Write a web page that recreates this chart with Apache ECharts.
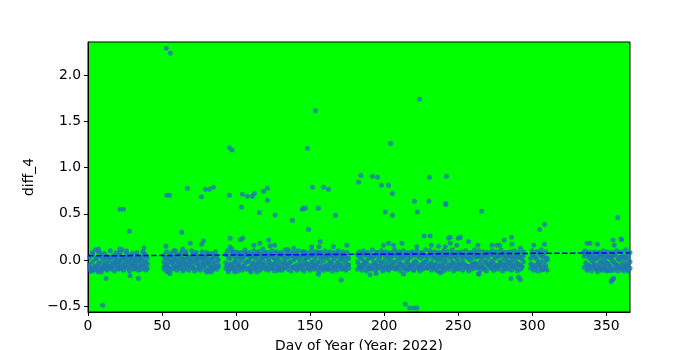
<!DOCTYPE html>
<html>
<head>
<meta charset="utf-8">
<script src="https://cdn.jsdelivr.net/npm/echarts@6/dist/echarts.min.js"></script>
<style>html,body{margin:0;padding:0;background:#fff}#c{width:700px;height:350px}</style>
</head>
<body>
<div id="c"></div>
<script>
// ---- data ----
const xTicks = [0, 50, 100, 150, 200, 250, 300, 350];
const yTicks = [-0.5, 0, 0.5, 1, 1.5, 2];
const xLabel = "Day of Year (Year: 2022)";
const yLabel = "diff_4";

// dense band, segments of consecutive days
const segAStart = 1;
const segA1 = [-0.05,-0.09,-0.02,-0.11,0.01,-0.06,-0.13,-0.03,0.04,-0.08,-0.04,0.02,-0.06,-0.01,-0.07,0.03,-0.03,-0.05,0.00,-0.02,0.06,-0.04,0.01,-0.06,0.03,-0.02,0.05,-0.01,-0.04,0.02,-0.03,0.00,-0.07,0.04,-0.02,0.01,-0.05,0.07,-0.03,0.02];
const segA2 = [0.03,-0.12,0.06,-0.07,-0.10,0.02,-0.04,0.08,-0.09,0.01,-0.07,-0.03,0.04,-0.08,0.02,-0.05,0.05,-0.02,0.03,-0.06,-0.01,0.04,-0.08,0.02,-0.03,0.07,-0.06,0.01,0.04,-0.05,0.02,-0.04,0.05,-0.01,0.03,-0.06,0.03,-0.02,0.05,-0.04];
const segA3 = [-0.09,-0.12,0.08,-0.10,-0.07,-0.11,0.09,-0.08,-0.13,-0.10,0.07,-0.09,-0.11,-0.08,0.10,-0.10,-0.07,-0.12,0.08,-0.09,-0.10,0.09,-0.08,-0.11,-0.07,0.10,-0.09,-0.12,-0.08,0.07,-0.10,-0.09,0.08,-0.11,-0.07,-0.10,0.09,-0.08,-0.11,-0.09];

const segBStart = 51;
const segB1 = [-0.02,0.03,-0.05,-0.08,0.01,-0.03,0.04,-0.06,-0.01,0.02,-0.04,0.05,-0.02,-0.07,0.01,-0.03,0.03,-0.05,0.00,-0.02,0.06,-0.04,-0.01,0.02,-0.06,0.03,-0.02,0.01,-0.05,0.04,-0.03,0.00,-0.08,0.02,-0.04,0.05,-0.01,-0.06];
const segB2 = [0.05,-0.06,0.02,-0.01,-0.09,0.04,-0.02,0.01,-0.07,0.06,-0.01,-0.05,0.03,0.00,-0.04,0.07,-0.06,0.02,-0.03,0.04,-0.08,0.01,0.05,-0.03,0.02,-0.07,0.04,-0.04,0.03,-0.01,0.06,-0.05,0.01,-0.02,0.04,-0.07,0.03,0.00];
const segB3 = [-0.08,-0.11,0.09,-0.13,-0.09,0.07,-0.10,-0.08,0.10,-0.11,-0.07,-0.09,0.08,-0.12,-0.10,0.09,-0.08,-0.11,-0.07,0.10,-0.09,-0.12,0.08,-0.10,-0.08,-0.11,0.09,-0.07,-0.10,0.08,-0.12,-0.09,0.07,-0.11,-0.08,0.09,-0.10,-0.07];

const segCStart = 93;
const segC1 = [-0.03,0.05,-0.08,0.02,-0.05,0.08,-0.02,0.01,-0.06,0.04,-0.01,-0.09,
0.03,-0.04,0.06,-0.02,0.00,-0.07,0.05,-0.03,0.02,-0.05,0.07,-0.01,
-0.06,0.03,-0.02,0.04,-0.08,0.01,-0.03,0.05,-0.05,0.02,-0.01,-0.07,
0.04,-0.02,0.06,-0.04,0.01,-0.06,0.03,-0.03,0.05,-0.08,0.00,0.02,
-0.05,0.04,-0.02,-0.07,0.06,-0.01,0.02,-0.04,0.03,-0.06,0.05,-0.03,
0.01,-0.05,0.07,-0.02,-0.08,0.03,-0.01,0.04,-0.06,0.02,-0.03,0.05,
-0.04,0.01,-0.07,0.06,-0.02,0.03,-0.05,0.00,0.04,-0.03,-0.06,0.02];
const segC2 = [0.06,-0.06,0.02,-0.04,0.09,-0.09,0.04,-0.03,0.07,-0.05,0.03,0.01,
-0.07,0.08,-0.02,0.05,-0.10,0.03,-0.04,0.06,-0.08,0.04,-0.02,0.07,
0.02,-0.05,0.08,-0.06,0.04,-0.02,0.06,-0.09,0.03,-0.04,0.07,0.01,
-0.05,0.06,-0.08,0.03,-0.03,0.07,-0.06,0.04,-0.02,0.05,-0.07,0.03,
0.06,-0.08,0.02,0.04,-0.05,0.07,-0.04,0.03,-0.09,0.05,-0.02,0.06,
-0.07,0.04,-0.03,0.08,0.02,-0.06,0.05,-0.08,0.03,0.06,-0.04,-0.02,
0.05,-0.08,0.03,-0.04,0.07,-0.06,0.02,0.05,-0.09,0.04,0.01,-0.05];
const segC3 = [-0.09,0.10,-0.11,-0.07,0.12,-0.10,-0.08,0.09,-0.12,-0.09,0.08,-0.11,
-0.07,0.11,-0.10,-0.09,0.08,-0.12,-0.08,0.10,-0.10,-0.07,0.09,-0.11,
-0.09,0.12,-0.08,-0.10,0.08,-0.11,-0.07,0.10,-0.09,-0.12,0.09,-0.08,
-0.10,0.08,-0.11,-0.09,0.11,-0.07,-0.10,0.09,-0.12,-0.08,0.08,-0.09,
-0.11,0.10,-0.07,-0.10,0.09,-0.12,-0.08,0.08,-0.09,-0.11,0.10,-0.07,
-0.10,0.09,-0.08,-0.12,0.08,-0.09,-0.11,0.10,-0.07,-0.10,0.09,-0.08,
-0.12,0.08,-0.09,-0.11,0.10,-0.07,-0.10,0.09,-0.08,-0.11,0.08,-0.09];

const segDStart = 182;
const segD1 = [-0.02,0.04,-0.07,0.01,-0.04,0.06,-0.01,-0.05,0.03,-0.08,0.02,-0.03,
0.05,-0.06,0.00,0.03,-0.04,0.07,-0.02,-0.07,0.04,-0.01,0.02,-0.05,
0.06,-0.03,-0.08,0.01,0.04,-0.04,0.02,-0.06,0.05,-0.02,0.00,-0.07,
0.03,-0.05,0.06,-0.01,-0.03,0.04,-0.08,0.02,-0.04,0.05,-0.02,0.01,
-0.06,0.07,-0.03,0.02,-0.05,0.04,-0.01,-0.07,0.03,0.00,-0.04,0.06,
-0.02,0.05,-0.06,0.01,-0.03,0.04,-0.08,0.02,0.06,-0.05,0.03,-0.01,
-0.04,0.05,-0.07,0.02,0.00,-0.05,0.06,-0.03,0.03,-0.06,0.04,-0.02,
0.01,-0.08,0.05,-0.03,0.02,-0.05,0.07,-0.01,-0.04,0.03,-0.06,0.04,
-0.02,0.06,-0.05,0.01,-0.07,0.03,-0.03,0.05,-0.01,-0.06,0.02,0.04,
-0.04,0.03,-0.06,0.01,-0.02];
const segD2 = [0.06,-0.05,0.03,-0.08,0.07,-0.03,0.05,-0.09,0.02,0.06,-0.06,0.04,
-0.03,0.08,-0.07,0.05,-0.02,-0.09,0.06,0.03,-0.05,0.07,-0.08,0.04,
-0.02,0.05,0.07,-0.07,-0.02,0.06,-0.05,0.03,-0.09,0.06,-0.04,0.04,
-0.06,0.07,-0.03,0.05,0.06,-0.07,0.03,-0.05,0.07,-0.03,0.05,-0.08,
0.04,-0.04,0.06,-0.08,0.03,-0.06,0.07,0.02,-0.05,0.06,-0.08,0.02,
0.05,-0.07,0.04,-0.05,0.07,-0.03,0.04,-0.06,-0.02,0.07,-0.05,0.05,
0.04,-0.06,0.03,-0.07,0.06,0.02,-0.05,0.07,-0.04,0.05,-0.08,0.04,
-0.06,0.04,-0.02,0.07,-0.05,0.05,-0.03,0.06,-0.07,0.02,0.05,-0.06,
0.04,-0.03,0.07,-0.05,0.04,-0.02,0.06,-0.04,0.03,0.05,-0.07,-0.02,
0.06,-0.05,0.03,-0.07,0.05];
const segD3 = [-0.10,0.09,-0.08,-0.11,0.10,-0.07,-0.12,0.08,-0.09,-0.10,0.11,-0.08,
-0.11,0.08,-0.09,-0.07,0.10,-0.12,-0.08,0.09,-0.10,-0.11,0.08,-0.07,
-0.09,0.11,-0.10,-0.08,0.09,-0.12,-0.07,0.10,-0.09,-0.11,0.08,-0.10,
-0.08,0.09,-0.11,-0.07,0.10,-0.09,-0.12,0.08,-0.10,-0.08,0.11,-0.09,
-0.07,0.10,-0.11,-0.08,0.09,-0.10,-0.12,0.08,-0.07,-0.09,0.10,-0.11,
-0.08,0.09,-0.10,-0.07,0.11,-0.12,-0.09,0.08,-0.10,-0.08,0.09,-0.11,
-0.07,0.10,-0.09,-0.12,0.08,-0.10,-0.08,0.11,-0.09,-0.07,0.10,-0.11,
-0.08,0.09,-0.10,-0.12,0.08,-0.07,-0.09,0.10,-0.11,-0.08,0.09,-0.10,
-0.07,0.11,-0.12,-0.09,0.08,-0.10,-0.08,0.09,-0.11,-0.07,0.10,-0.09,
-0.12,0.08,-0.10,-0.08,0.09];

const segEStart = 299;
const segE1 = [0.02,-0.05,0.04,-0.08,0.01,-0.03,0.06,-0.06,0.03,-0.02,-0.09,0.00];
const segE2 = [-0.04,0.06,-0.07,0.03,-0.05,0.08,-0.02,0.05,-0.10,0.04,-0.06,0.02];
const segE3 = [-0.09,0.10,-0.11,-0.08,0.09,-0.12,-0.07,0.11,-0.10,-0.08,0.09,-0.11];

const segFStart = 335;
const segF1 = [0.04,-0.03,0.07,-0.06,0.02,-0.01,0.05,-0.04,0.01,-0.07,0.03,-0.02,0.06,-0.05,0.00,-0.03,0.04,-0.06,0.02,-0.01,0.05,-0.04,-0.07,0.03,0.00,-0.05,0.02,-0.03,0.04,-0.06,0.01,-0.02];
const segF2 = [0.09,0.06,-0.05,0.03,-0.08,0.05,-0.06,0.02,-0.09,0.04,-0.05,0.06,-0.03,0.02,-0.08,0.05,-0.04,0.03,-0.10,0.04,-0.02,0.06,-0.05,0.01,-0.08,0.03,0.05,-0.07,0.02,-0.04,0.06,-0.09];
const segF3 = [-0.08,0.10,-0.11,-0.09,0.08,-0.12,-0.07,0.09,-0.10,-0.13,0.08,-0.09,-0.11,0.10,-0.08,-0.12,0.09,-0.10,-0.07,0.08,-0.11,-0.09,0.10,-0.12,-0.08,0.09,-0.10,-0.07,0.11,-0.09,-0.12,0.08];

// individual points
const extraX = [52.9,55.6,223.9,153.6,95.5,97.3,148.2,204.3,
53.2,55,67.1,76.6,79.3,82,84.7,95.5,103.6,104.3,107.6,111,112.4,118.5,121.1,121.1,145.5,151.6,159,162.4,155.6,182.7,184.2,192.1,195.5,198.2,202.9,205.6,220.5,230.2,230.6,241.4,242.1,
21.6,23.9,27.9,63.3,115.7,126.4,138,144.8,146.8,148.9,167.1,200.7,205.6,222.3,241.7,265.8,305,308.3,357.6,
9.9,12.2,28.4,34,55.4,155.6,171,190.5,194.6,214.2,217.1,219.8,222.1,213,237.8,285.6,290.7,291.9,263.7,354.3,353.2,346,350.5,53,54,80,83,94.8,99,110,114,128.6,162,219.8,239,264,306.5,349.3,352.7,353.8,355,360.6,361.7,365,21,
5,7,21.5,23,37.8,52.7,69,76.8,78,58,64,96,96,103,104.5,112,116,122,123,126,135,139,145.5,151,156.8,156,165.7,174.8,199.5,203,206.3,212,222,227,231,231.8,236.7,241.2,243.4,244.6,250,249,257,263.3,272.7,276,278,281,286,286.3,292,301,308.3,337,339,344,354.5,355.4,360,360.3,244.6,251.4];
const extraY = [2.29,2.235,1.737,1.614,1.214,1.19,1.207,1.26,
0.70,0.70,0.775,0.685,0.765,0.765,0.786,0.70,0.57,0.71,0.69,0.69,0.72,0.743,0.775,0.645,0.56,0.786,0.786,0.765,0.56,0.84,0.915,0.905,0.894,0.808,0.808,0.72,0.635,0.635,0.894,0.61,0.905,
0.55,0.55,0.31,0.30,0.515,0.486,0.43,0.548,0.56,0.33,0.483,0.519,0.483,0.519,0.60,0.526,0.33,0.386,0.46,
-0.49,-0.20,-0.17,-0.20,-0.145,-0.155,-0.216,-0.16,-0.145,-0.476,-0.52,-0.52,-0.52,-0.15,-0.137,-0.2,-0.187,-0.21,-0.15,-0.21,-0.235,-0.1,-0.108,-0.05,-0.11,-0.13,-0.13,-0.126,-0.126,-0.13,-0.13,-0.11,-0.1,-0.108,-0.126,-0.15,-0.108,-0.1,-0.115,-0.216,-0.198,-0.09,-0.115,-0.108,-0.09,
0.11,0.12,0.12,0.11,0.13,0.15,0.18,0.17,0.205,0.10,0.12,0.235,0.14,0.22,0.235,0.16,0.18,0.216,0.155,0.16,0.115,0.126,0.09,0.144,0.2,0.144,0.144,0.16,0.16,0.18,0.16,0.18,0.144,0.26,0.26,0.16,0.15,0.144,0.235,0.18,0.235,0.16,0.2,0.16,0.16,0.16,0.16,0.216,0.245,0.17,0.126,0.16,0.17,0.18,0.18,0.17,0.216,0.16,0.227,0.22,0.245,0.245];

// fitted trend line end points
const trendX = [0, 366];
const trendY = [0.045, 0.078];

// ---- build ----
const pts = [];
function addSeg(start, arr) { arr.forEach((v, i) => pts.push([start + i, v])); }
addSeg(segAStart, segA1); addSeg(segAStart, segA2); addSeg(segAStart, segA3);
addSeg(segBStart, segB1); addSeg(segBStart, segB2); addSeg(segBStart, segB3);
addSeg(segCStart, segC1); addSeg(segCStart, segC2); addSeg(segCStart, segC3);
addSeg(segDStart, segD1); addSeg(segDStart, segD2); addSeg(segDStart, segD3);
addSeg(segEStart, segE1); addSeg(segEStart, segE2); addSeg(segEStart, segE3);
addSeg(segFStart, segF1); addSeg(segFStart, segF2); addSeg(segFStart, segF3);
extraX.forEach((x, i) => pts.push([x, extraY[i]]));

const fmt = v => (v < 0 ? '\u2212' : '') + Math.abs(v).toFixed(1);
const font = 'DejaVu Sans';

const chart = echarts.init(document.getElementById('c'), null, {renderer: 'canvas'});
chart.setOption({
  animation: false,
  backgroundColor: '#ffffff',
  grid: {left: 88, right: 70, top: 42, bottom: 38, show: true, backgroundColor: '#00ff00', borderColor: '#000', borderWidth: 1,
         containLabel: false, outerBoundsMode: 'none'},
  xAxis: {
    type: 'value', min: 0, max: 366,
    name: xLabel, nameLocation: 'middle', nameGap: 27,
    nameTextStyle: {fontFamily: font, fontSize: 13.9, color: '#000'},
    axisLine: {onZero: false, lineStyle: {color: '#000', width: 1}},
    axisTick: {show: true, length: 4, lineStyle: {color: '#000'}, customValues: xTicks},
    axisLabel: {customValues: xTicks, margin: 7, fontFamily: font, fontSize: 13.9, color: '#000', formatter: v => String(v)},
    splitLine: {show: false}
  },
  yAxis: {
    type: 'value', min: -0.562, max: 2.357,
    name: yLabel, nameLocation: 'middle', nameRotate: 90, nameGap: 48,
    nameTextStyle: {fontFamily: font, fontSize: 13.9, color: '#000'},
    axisLine: {show: true, onZero: false, lineStyle: {color: '#000', width: 1}},
    axisTick: {show: true, length: 4, lineStyle: {color: '#000'}, customValues: yTicks},
    axisLabel: {customValues: yTicks, margin: 7, fontFamily: font, fontSize: 13.9, color: '#000', formatter: fmt},
    splitLine: {show: false}
  },
  series: [
    {type: 'scatter', data: pts, symbol: 'circle', symbolSize: 5, itemStyle: {color: '#1f77b4'}, silent: true, z: 2},
    {type: 'line', data: trendX.map((x, i) => [x, trendY[i]]), symbol: 'none', silent: true, z: 3,
     lineStyle: {color: '#0000ff', width: 1.5, type: [5.5, 2.4]}}
  ]
});
</script>
</body>
</html>
